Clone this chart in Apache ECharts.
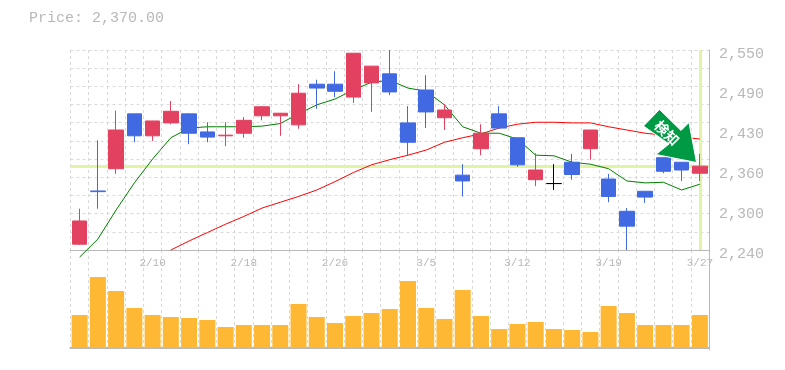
<!DOCTYPE html>
<html><head><meta charset="utf-8">
<style>html,body{margin:0;padding:0;background:#fff}#c{width:785px;height:370px}</style>
<script src="https://cdn.jsdelivr.net/npm/echarts@6/dist/echarts.min.js"></script>
</head><body><div id="c"></div>
<script>
const categories=['2/4','2/5','2/6','2/7','2/10','2/12','2/13','2/14','2/17','2/18','2/19','2/20','2/21','2/25','2/26','2/27','2/28','3/3','3/4','3/5','3/6','3/7','3/10','3/11','3/12','3/13','3/14','3/17','3/18','3/19','3/21','3/24','3/25','3/26','3/27'];
const opens=[2249,2331.5,2366,2451,2417,2437,2451,2423,2417,2421,2448,2448,2434,2497,2497,2477,2499,2513,2437,2488,2445,2356,2397,2451,2414,2349,2343,2376,2397,2350,2300,2331,2383,2376,2359];
const closes=[2285,2330.5,2426,2417,2440,2455,2421,2415,2418,2441,2462,2452,2483,2491,2486,2545,2525,2485,2407,2454,2457,2347,2421,2429,2372,2364,2343,2357,2426,2323,2277,2322,2362,2364,2370];
const lows=[2248,2304,2358,2407,2409,2435,2404,2407,2401,2414,2441,2417,2428,2459,2477,2468,2454,2480,2386,2429,2426,2323,2387,2429,2369,2339,2333,2349,2380,2314,2240,2313,2359,2347,2347];
const highs=[2304,2410,2456,2451,2440,2471,2452,2438,2438,2446,2463,2452,2497,2504,2517,2545,2525,2550,2463,2511,2466,2373,2435,2463,2414,2390,2373,2389,2426,2358,2305,2331,2383,2376,2389];
const maShort=[2229,2257,2302,2344,2381,2414,2429,2431,2431,2431,2432,2436,2451,2465,2474,2488,2500,2503,2491,2486,2465,2431,2421,2421,2412,2387,2386,2376,2373,2366,2347,2344,2345,2333,2342];
const maLong=[null,null,null,null,null,2240,2254,2267,2280,2292,2305,2314,2323,2333,2346,2360,2372,2380,2387,2395,2407,2414,2420,2429,2435,2438,2438,2437,2437,2431,2426,2421,2418,2415,2412];
const volumes=[330,710,570,400,330,310,300,280,210,230,230,230,440,310,250,320,350,390,670,400,290,580,320,190,240,260,190,180,160,420,350,230,230,230,330];
const priceLabels=['2,240','2,300','2,360','2,430','2,490','2,550'];
const lastPrice=2370;
const shownDates=['2/10','2/18','2/26','3/5','3/12','3/19','3/27'];
const GRAY='#b8b8b8',FONT='"Liberation Mono",monospace',GRID={lineStyle:{color:'#d9d9d9',type:[3,3],width:1}};
const candles=categories.map((_,i)=>[opens[i],closes[i],lows[i],highs[i]]);
const xBase={type:'category',data:categories,boundaryGap:true,axisTick:{show:false},
  splitLine:{show:true,interval:0,...GRID}};
const chart=echarts.init(document.getElementById('c'),null,{renderer:'canvas'});
chart.setOption({animation:false,backgroundColor:'#fff',
 title:{text:'Price: 2,370.00',left:24,top:6,textStyle:{fontFamily:FONT,fontSize:15,fontWeight:'normal',color:GRAY}},
 grid:[{left:70.5,right:76,top:50,height:200},{left:70.5,right:76,top:250,height:100},{left:70.5,right:76,top:54,height:200}],
 xAxis:[
  {...xBase,gridIndex:0,axisLine:{lineStyle:{color:GRAY,width:1}},
   axisLabel:{interval:0,margin:8,color:GRAY,fontFamily:FONT,fontSize:11,formatter:v=>shownDates.includes(v)?v:''}},
  {...xBase,gridIndex:1,axisLine:{lineStyle:{color:GRAY,width:2}},axisLabel:{show:false}},
  {...xBase,gridIndex:2,show:false,splitLine:{show:false}}],
 yAxis:[
  {type:'value',gridIndex:0,min:2240,max:2550,position:'right',
   axisLine:{show:true,lineStyle:{color:GRAY,width:1}},axisTick:{show:false},
   splitLine:{show:false},axisLabel:{show:false}},
  {type:'value',gridIndex:1,min:-20,max:980,position:'right',axisLine:{show:true,onZero:false,lineStyle:{color:GRAY,width:1}},
   axisTick:{show:false},axisLabel:{show:false},splitLine:{show:false}},
  {type:'value',gridIndex:0,min:0,max:11,interval:1,position:'left',axisLine:{show:false},axisTick:{show:false},
   axisLabel:{show:false},splitLine:{show:true,...GRID}},
  {type:'value',gridIndex:2,min:0,max:5,interval:1,position:'right',axisLine:{show:false},axisTick:{show:false},
   splitLine:{show:false},
   axisLabel:{margin:10,color:GRAY,fontFamily:FONT,fontSize:15,formatter:v=>priceLabels[v]}}],
 series:[
  {type:'line',name:'guide',xAxisIndex:0,yAxisIndex:0,data:[],z:1,silent:true,
   markLine:{z:1,silent:true,symbol:'none',label:{show:false},animation:false,
    lineStyle:{color:'#e0f4a4',width:3,type:'solid'},
    data:[{yAxis:lastPrice},{xAxis:'3/27'}]}},
  {type:'line',name:'long',xAxisIndex:0,yAxisIndex:0,data:maLong,showSymbol:false,symbol:'none',z:2,clip:false,
   lineStyle:{color:'#ff0000',width:1}},
  {type:'line',name:'short',xAxisIndex:0,yAxisIndex:0,data:maShort,showSymbol:false,symbol:'none',z:2,clip:false,
   lineStyle:{color:'#008000',width:1}},
  {type:'candlestick',xAxisIndex:0,yAxisIndex:0,data:candles,barWidth:15,z:3,clip:false,
   itemStyle:{color:'#e24260',color0:'#4169e1',borderColor:'#e24260',borderColor0:'#4169e1',borderColorDoji:'#000000',borderWidth:1}},
  {type:'bar',xAxisIndex:1,yAxisIndex:1,data:volumes,barWidth:16,z:3,itemStyle:{color:'#ffb833'}}
 ],
 graphic:[
  {type:'polygon',z:100,shape:{points:[[659.5,109.5],[643.5,126],[669,144],[656,154.5],[696.5,162.5],[689,122.5],[681,130.5]]},
   style:{fill:'#009944',stroke:'#ffffff',lineWidth:1}},
  {type:'text',z:101,x:667,y:133,rotation:-Math.PI/4,style:{text:'検知',fill:'#fff',font:'bold 14px "Noto Sans CJK JP"',align:'center',verticalAlign:'middle'}}
 ]
});
</script></body></html>
